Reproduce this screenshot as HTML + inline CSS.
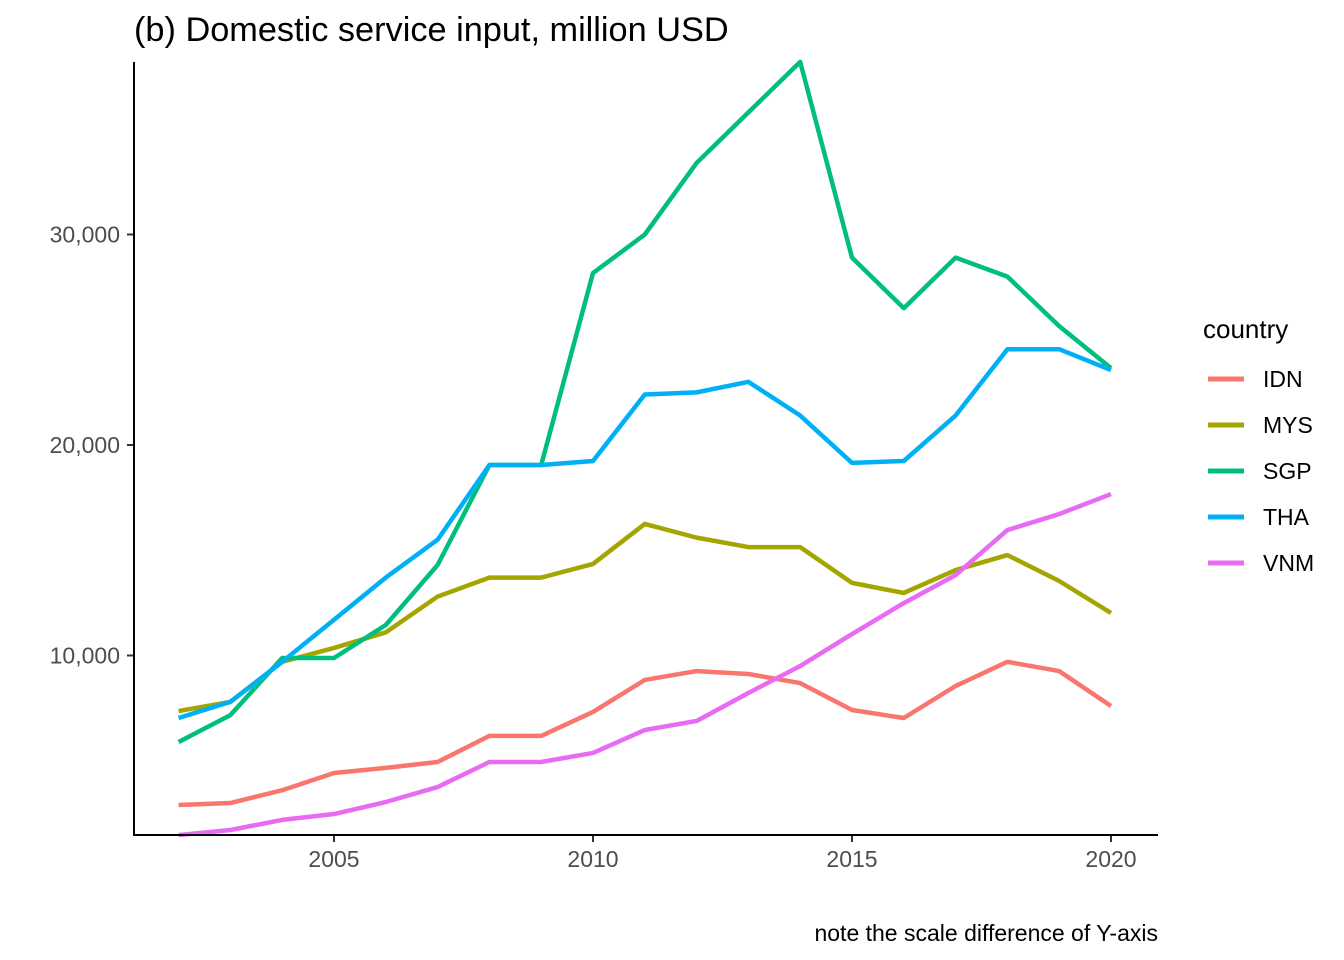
<!DOCTYPE html>
<html><head><meta charset="utf-8"><style>
body{margin:0;background:#fff;}
svg{display:block;font-family:"Liberation Sans",Arial,sans-serif;}
</style></head><body>
<svg id="chart" width="1344" height="960">
<text x="134" y="41" font-size="34.3" fill="#000">(b) Domestic service input, million USD</text>
<g id="marks"></g>
<line x1="134" y1="62" x2="134" y2="836" stroke="#000" stroke-width="2"/>
<line x1="133" y1="835" x2="1158" y2="835" stroke="#000" stroke-width="2"/>
<g id="ticks"></g>
<text x="1203" y="338" font-size="26" fill="#000">country</text>
<g id="legend"></g>
<text x="1158" y="941" font-size="23" text-anchor="end" fill="#000">note the scale difference of Y-axis</text>
</svg>
<script>
const years = [2002,2003,2004,2005,2006,2007,2008,2009,2010,2011,2012,2013,2014,2015,2016,2017,2018,2019,2020];
const countries = ["IDN","MYS","SGP","THA","VNM"];
const colors = ["#F8766D","#A3A500","#00BF7D","#00B0F6","#E76BF3"];
const idn = [2900,2990,3600,4420,4660,4940,6180,6180,7320,8840,9260,9120,8690,7410,7030,8550,9700,9260,7600];
const mys = [7360,7800,9700,10360,11100,12800,13700,13700,14350,16250,15600,15150,15150,13450,12970,14060,14770,13540,12020];
const sgp = [5890,7170,9880,9880,11450,14300,19050,19050,28170,30000,33400,35800,38200,28900,26500,28900,28000,25650,23650];
const tha = [7030,7800,9700,11700,13700,15500,19050,19050,19240,22400,22500,23000,21400,19150,19240,21400,24550,24550,23560];
const vnm = [1470,1710,2190,2470,3040,3750,4940,4940,5370,6460,6890,8220,9500,11020,12490,13820,15960,16720,17670];
const series = [idn,mys,sgp,tha,vnm];
const xTicks = [2005,2010,2015,2020];
const yTicks = [10000,20000,30000];

const x = v => 334 + (v - 2005) * 51.8;
const y = v => 866 - v * 0.02105;
const NS = "http://www.w3.org/2000/svg";
const marks = document.getElementById("marks");
series.forEach((s, i) => {
  const p = document.createElementNS(NS, "polyline");
  p.setAttribute("points", s.map((v, j) => x(years[j]) + "," + y(v)).join(" "));
  p.setAttribute("fill", "none");
  p.setAttribute("stroke", colors[i]);
  p.setAttribute("stroke-width", "4.5");
  p.setAttribute("stroke-linejoin", "round");
  
  
  marks.appendChild(p);
});
const ticks = document.getElementById("ticks");
xTicks.forEach(t => {
  const l = document.createElementNS(NS, "line");
  l.setAttribute("x1", x(t)); l.setAttribute("x2", x(t));
  l.setAttribute("y1", 836); l.setAttribute("y2", 842);
  l.setAttribute("stroke", "#333"); l.setAttribute("stroke-width", "2");
  
  
  ticks.appendChild(l);
  const tx = document.createElementNS(NS, "text");
  tx.setAttribute("x", x(t)); tx.setAttribute("y", 867);
  tx.setAttribute("text-anchor", "middle"); tx.setAttribute("font-size", "23"); tx.setAttribute("fill", "#4d4d4d");
  tx.textContent = t;
  
  
  ticks.appendChild(tx);
});
yTicks.forEach(t => {
  const l = document.createElementNS(NS, "line");
  l.setAttribute("x1", 127); l.setAttribute("x2", 133);
  l.setAttribute("y1", y(t)); l.setAttribute("y2", y(t));
  l.setAttribute("stroke", "#333"); l.setAttribute("stroke-width", "2");
  
  
  ticks.appendChild(l);
  const tx = document.createElementNS(NS, "text");
  tx.setAttribute("x", 120); tx.setAttribute("y", y(t) + 8);
  tx.setAttribute("text-anchor", "end"); tx.setAttribute("font-size", "23"); tx.setAttribute("fill", "#4d4d4d");
  tx.textContent = t.toLocaleString("en-US");
  
  
  ticks.appendChild(tx);
});
const legend = document.getElementById("legend");
countries.forEach((c, i) => {
  const yy = 379 + i * 46;
  const l = document.createElementNS(NS, "line");
  l.setAttribute("x1", 1208); l.setAttribute("x2", 1244);
  l.setAttribute("y1", yy); l.setAttribute("y2", yy);
  l.setAttribute("stroke", colors[i]); l.setAttribute("stroke-width", "5");
  
  
  legend.appendChild(l);
  const tx = document.createElementNS(NS, "text");
  tx.setAttribute("x", 1263); tx.setAttribute("y", yy + 8);
  tx.setAttribute("font-size", "23"); tx.setAttribute("fill", "#000");
  tx.textContent = c;
  
  
  legend.appendChild(tx);
});
</script>
</body></html>
